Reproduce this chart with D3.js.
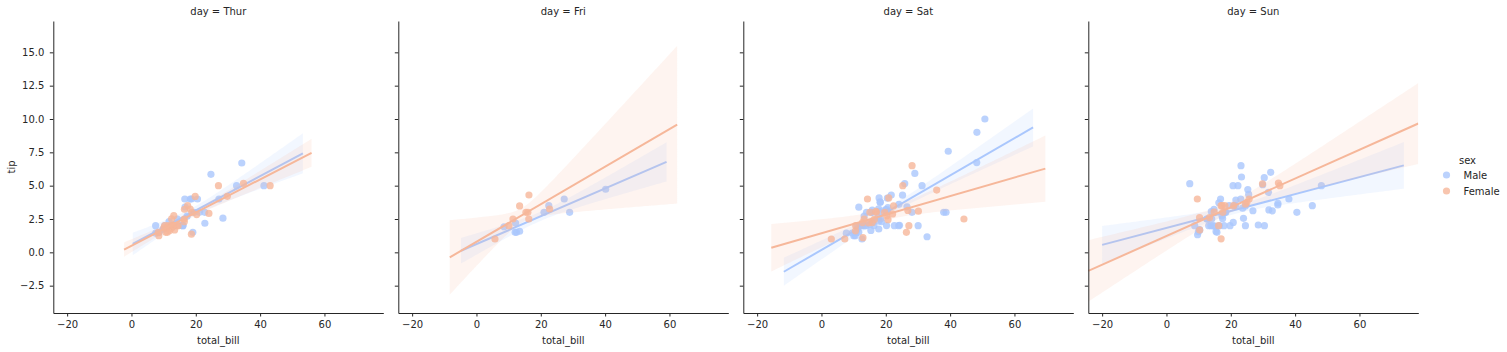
<!DOCTYPE html>
<html>
<head>
<meta charset="utf-8">
<script src="https://cdn.jsdelivr.net/npm/d3@7.9.0/dist/d3.min.js"></script>
<style>
  body { margin: 0; background: #fff; }
  svg { display: block; font-family: "DejaVu Sans", sans-serif; }
  .axis text { fill: #262626; font-size: 10px; font-family: "DejaVu Sans", sans-serif; }
  .axis path, .axis line { stroke: #262626; }
  .label { fill: #262626; font-size: 10px; }
</style>
</head>
<body>
<div id="chart"></div>
<script>
// tips data: total_bill, tip, sex code, day code (row order)
const totalBill = [
  16.99,10.34,21.01,23.68,24.59,25.29,8.77,26.88,15.04,14.78,
  10.27,35.26,15.42,18.43,14.83,21.58,10.33,16.29,16.97,20.65,
  17.92,20.29,15.77,39.42,19.82,17.81,13.37,12.69,21.7,19.65,
  9.55,18.35,15.06,20.69,17.78,24.06,16.31,16.93,18.69,31.27,
  16.04,17.46,13.94,9.68,30.4,18.29,22.23,32.4,28.55,18.04,
  12.54,10.29,34.81,9.94,25.56,19.49,38.01,26.41,11.24,48.27,
  20.29,13.81,11.02,18.29,17.59,20.08,16.45,3.07,20.23,15.01,
  12.02,17.07,26.86,25.28,14.73,10.51,17.92,27.2,22.76,17.29,
  19.44,16.66,10.07,32.68,15.98,34.83,13.03,18.28,24.71,21.16,
  28.97,22.49,5.75,16.32,22.75,40.17,27.28,12.03,21.01,12.46,
  11.35,15.38,44.3,22.42,20.92,15.36,20.49,25.21,18.24,14.31,
  14.0,7.25,38.07,23.95,25.71,17.31,29.93,10.65,12.43,24.08,
  11.69,13.42,14.26,15.95,12.48,29.8,8.52,14.52,11.38,22.82,
  19.08,20.27,11.17,12.26,18.26,8.51,10.33,14.15,16.0,13.16,
  17.47,34.3,41.19,27.05,16.43,8.35,18.64,11.87,9.78,7.51,
  14.07,13.13,17.26,24.55,19.77,29.85,48.17,25.0,13.39,16.49,
  21.5,12.66,16.21,13.81,17.51,24.52,20.76,31.71,10.59,10.63,
  50.81,15.81,7.25,31.85,16.82,32.9,17.89,14.48,9.6,34.63,
  34.65,23.33,45.35,23.17,40.55,20.69,20.9,30.46,18.15,23.1,
  15.69,19.81,28.44,15.48,16.58,7.56,10.34,43.11,13.0,13.51,
  18.71,12.74,13.0,16.4,20.53,16.47,26.59,38.73,24.27,12.76,
  30.06,25.89,48.33,13.27,28.17,12.9,28.15,11.59,7.74,30.14,
  12.16,13.42,8.58,15.98,13.42,16.27,10.09,20.45,13.28,22.12,
  24.01,15.69,11.61,10.77,15.53,10.07,12.6,32.83,35.83,29.03,
  27.18,22.67,17.82,18.78
];

const tip = [
  1.01,1.66,3.5,3.31,3.61,4.71,2.0,3.12,1.96,3.23,
  1.71,5.0,1.57,3.0,3.02,3.92,1.67,3.71,3.5,3.35,
  4.08,2.75,2.23,7.58,3.18,2.34,2.0,2.0,4.3,3.0,
  1.45,2.5,3.0,2.45,3.27,3.6,2.0,3.07,2.31,5.0,
  2.24,2.54,3.06,1.32,5.6,3.0,5.0,6.0,2.05,3.0,
  2.5,2.6,5.2,1.56,4.34,3.51,3.0,1.5,1.76,6.73,
  3.21,2.0,1.98,3.76,2.64,3.15,2.47,1.0,2.01,2.09,
  1.97,3.0,3.14,5.0,2.2,1.25,3.08,4.0,3.0,2.71,
  3.0,3.4,1.83,5.0,2.03,5.17,2.0,4.0,5.85,3.0,
  3.0,3.5,1.0,4.3,3.25,4.73,4.0,1.5,3.0,1.5,
  2.5,3.0,2.5,3.48,4.08,1.64,4.06,4.29,3.76,4.0,
  3.0,1.0,4.0,2.55,4.0,3.5,5.07,1.5,1.8,2.92,
  2.31,1.68,2.5,2.0,2.52,4.2,1.48,2.0,2.0,2.18,
  1.5,2.83,1.5,2.0,3.25,1.25,2.0,2.0,2.0,2.75,
  3.5,6.7,5.0,5.0,2.3,1.5,1.36,1.63,1.73,2.0,
  2.5,2.0,2.74,2.0,2.0,5.14,5.0,3.75,2.61,2.0,
  3.5,2.5,2.0,2.0,3.0,3.48,2.24,4.5,1.61,2.0,
  10.0,3.16,5.15,3.18,4.0,3.11,2.0,2.0,4.0,3.55,
  3.68,5.65,3.5,6.5,3.0,5.0,3.5,2.0,3.5,4.0,
  1.5,4.19,2.56,2.02,4.0,1.44,2.0,5.0,2.0,2.0,
  4.0,2.01,2.0,2.5,4.0,3.23,3.41,3.0,2.03,2.23,
  2.0,5.16,9.0,2.5,6.5,1.1,3.0,1.5,1.44,3.09,
  2.2,3.48,1.92,3.0,1.58,2.5,2.0,3.0,2.72,2.88,
  2.0,3.0,3.39,1.47,3.0,1.25,1.0,1.17,4.67,5.92,
  2.0,2.0,1.75,3.0
];

const sexLevels = ['Male', 'Female'];
const sexCode = [
  1,0,0,0,1,0,0,0,0,0, 0,1,0,0,1,0,1,0,1,0, 0,1,1,0,0,0,0,0,0,1, 0,0,1,1,0,0,0,1,0,0,
  0,0,0,0,0,0,0,0,0,0, 0,1,1,0,0,0,0,1,0,0, 0,0,0,0,0,0,1,1,0,0, 0,1,1,1,1,0,0,0,0,0,
  0,0,1,0,0,1,0,0,0,0, 0,0,1,1,1,0,0,0,0,0, 1,1,1,1,1,0,0,0,0,1, 0,1,0,0,1,1,0,1,1,1,
  0,1,0,0,1,1,0,1,1,0, 0,1,1,1,1,1,1,1,0,1, 1,0,0,1,1,1,1,1,0,0, 0,0,0,0,0,1,0,1,1,0,
  0,0,1,0,1,0,0,0,1,1, 0,0,0,0,0,0,0,0,1,0, 0,0,0,0,0,0,1,0,1,0, 0,1,0,0,0,0,0,1,1,0,
  0,1,1,1,0,1,0,0,0,1, 0,0,0,1,1,1,0,0,0,1, 0,1,0,1,0,1,1,0,0,1, 0,0,0,0,0,0,0,0,1,0,
  1,0,0,1
];

const dayLevels = ['Thur', 'Fri', 'Sat', 'Sun'];
const dayCode = [
  3,3,3,3,3,3,3,3,3,3, 3,3,3,3,3,3,3,3,3,2, 2,2,2,2,2,2,2,2,2,2, 2,2,2,2,2,2,2,2,2,2,
  2,3,3,3,3,3,3,3,3,3, 3,3,3,3,3,3,2,2,2,2, 2,2,2,2,2,2,2,2,2,2, 2,2,2,2,2,2,2,0,0,0,
  0,0,0,0,0,0,0,0,0,0, 1,1,1,1,1,1,1,1,1,1, 1,1,2,2,2,2,2,2,2,2, 2,2,3,3,3,3,3,0,0,0,
  0,0,0,0,0,0,0,0,0,0, 0,0,0,0,0,0,0,0,0,0, 0,0,0,0,0,0,0,0,0,0, 3,3,3,3,3,3,3,3,3,3,
  3,3,3,3,3,3,3,3,2,2, 2,2,3,3,3,3,3,3,3,3, 3,3,3,3,3,3,3,3,3,3, 3,0,0,0,0,0,0,0,0,0,
  0,0,0,0,0,0,2,2,2,2, 2,2,2,2,2,2,2,2,2,2, 1,1,1,1,1,1,1,2,2,2, 2,2,2,2,2,2,2,2,2,2,
  2,2,2,0
];

// x span covered by each regression line, per day
const fitSpanMale = [[0.4, 53.3], [-4.8, 59.1], [-11.7, 65.8], [-20.0, 73.8]];
const fitSpanFemale = [[-2.3, 56.0], [-8.3, 62.4], [-15.6, 69.6], [-24.3, 78.3]];

const xTicks = [-20, 0, 20, 40, 60];
const yTicks = [-2.5, 0, 2.5, 5, 7.5, 10, 12.5, 15];
const sexColors = ['#aac7fd', '#f6b79a'];

// layout
const width = 1507;
const height = 352;
const panelW = 330;
const panelStep = 345;
const left0 = 53.3;
const plotTop = 21;
const plotBottom = 313;

function normalQuantile(p) {
  // Acklam's rational approximation (central region)
  const a = [-3.969683028665376e+01, 2.209460984245205e+02, -2.759285104469687e+02,
    1.383577518672690e+02, -3.066479806614716e+01, 2.506628277459239e+00];
  const b = [-5.447609879822406e+01, 1.615858368580409e+02, -1.556989798598866e+02,
    6.680131188771972e+01, -1.328068155288572e+01];
  const q = p - 0.5, r = q * q;
  return (((((a[0] * r + a[1]) * r + a[2]) * r + a[3]) * r + a[4]) * r + a[5]) * q /
    (((((b[0] * r + b[1]) * r + b[2]) * r + b[3]) * r + b[4]) * r + 1);
}

function tQuantile(p, df) {
  // Cornish-Fisher expansion of the Student t quantile
  const z = normalQuantile(p);
  const z3 = z ** 3, z5 = z ** 5, z7 = z ** 7;
  return z + (z3 + z) / (4 * df) + (5 * z5 + 16 * z3 + 3 * z) / (96 * df * df)
    + (3 * z7 + 19 * z5 + 17 * z3 - 15 * z) / (384 * df ** 3);
}

function fit(points) {
  const n = points.length;
  const mx = d3.mean(points, d => d.x);
  const my = d3.mean(points, d => d.y);
  const sxx = d3.sum(points, d => (d.x - mx) ** 2);
  const sxy = d3.sum(points, d => (d.x - mx) * (d.y - my));
  const slope = sxy / sxx;
  const icpt = my - slope * mx;
  const sse = d3.sum(points, d => (d.y - icpt - slope * d.x) ** 2);
  const s = Math.sqrt(sse / (n - 2));
  const t = tQuantile(0.975, n - 2);
  return {
    predict: x => icpt + slope * x,
    half: x => t * s * Math.sqrt(1 / n + (x - mx) ** 2 / sxx),
  };
}

const rows = totalBill.map((x, i) => ({
  x, y: tip[i], sex: sexCode[i], day: dayCode[i],
}));

const svg = d3.select('#chart').append('svg')
  .attr('width', width)
  .attr('height', height);

const xScale = d3.scaleLinear().domain([-24.3, 78.3]).range([0, panelW]);
const yScale = d3.scaleLinear().domain([-4.55, 17.35]).range([plotBottom, plotTop]);

dayLevels.forEach((day, di) => {
  const g = svg.append('g').attr('transform', `translate(${left0 + di * panelStep},0)`);

  g.append('clipPath').attr('id', `clip${di}`)
    .append('rect')
    .attr('x', 0).attr('y', plotTop)
    .attr('width', panelW).attr('height', plotBottom - plotTop);

  const plot = g.append('g').attr('clip-path', `url(#clip${di})`);

  sexLevels.forEach((sex, si) => {
    const pts = rows.filter(d => d.day === di && d.sex === si);
    const color = sexColors[si];

    plot.append('g')
      .selectAll('circle')
      .data(pts)
      .join('circle')
      .attr('cx', d => xScale(d.x))
      .attr('cy', d => yScale(d.y))
      .attr('r', 3.6)
      .attr('fill', color)
      .attr('fill-opacity', 0.8);

    const f = fit(pts);
    const [x0, x1] = (si === 0 ? fitSpanMale : fitSpanFemale)[di];
    const grid = d3.range(101).map(k => x0 + (x1 - x0) * k / 100);

    const band = d3.area()
      .x(x => xScale(x))
      .y0(x => yScale(f.predict(x) - f.half(x)))
      .y1(x => yScale(f.predict(x) + f.half(x)));

    plot.append('path')
      .attr('d', band(grid))
      .attr('fill', color)
      .attr('fill-opacity', 0.15);

    plot.append('line')
      .attr('x1', xScale(x0)).attr('y1', yScale(f.predict(x0)))
      .attr('x2', xScale(x1)).attr('y2', yScale(f.predict(x1)))
      .attr('stroke', color)
      .attr('stroke-width', 2);
  });

  // axes
  g.append('g')
    .attr('class', 'axis')
    .attr('transform', `translate(0,${plotBottom})`)
    .call(d3.axisBottom(xScale).tickValues(xTicks).tickSize(3.5).tickSizeOuter(0).tickPadding(4.5))
    .attr('font-size', null).attr('font-family', null);

  const yAxis = d3.axisLeft(yScale).tickValues(yTicks).tickSize(3.5).tickSizeOuter(0).tickPadding(5.5)
    .tickFormat(di === 0 ? d3.format('.1f') : () => '');
  g.append('g')
    .attr('class', 'axis')
    .call(yAxis)
    .attr('font-size', null).attr('font-family', null);

  g.append('text')
    .attr('class', 'label')
    .attr('x', panelW / 2).attr('y', 15)
    .attr('text-anchor', 'middle')
    .text(`day = ${day}`);

  g.append('text')
    .attr('class', 'label')
    .attr('x', panelW / 2).attr('y', 344)
    .attr('text-anchor', 'middle')
    .text('total_bill');
});

svg.append('text')
  .attr('class', 'label')
  .attr('transform', `translate(15,${(plotTop + plotBottom) / 2}) rotate(-90)`)
  .attr('text-anchor', 'middle')
  .text('tip');

// legend
const legend = svg.append('g').attr('transform', 'translate(1446.5,0)');
legend.append('text')
  .attr('class', 'label')
  .attr('x', 21).attr('y', 164)
  .attr('text-anchor', 'middle')
  .text('sex');

sexLevels.forEach((sex, si) => {
  const y = 175 + si * 16;
  legend.append('circle')
    .attr('cx', 0).attr('cy', y).attr('r', 3.6)
    .attr('fill', sexColors[si]).attr('fill-opacity', 0.8);
  legend.append('text')
    .attr('class', 'label')
    .attr('x', 17).attr('y', y + 3.6)
    .text(sex);
});
</script>
</body>
</html>
